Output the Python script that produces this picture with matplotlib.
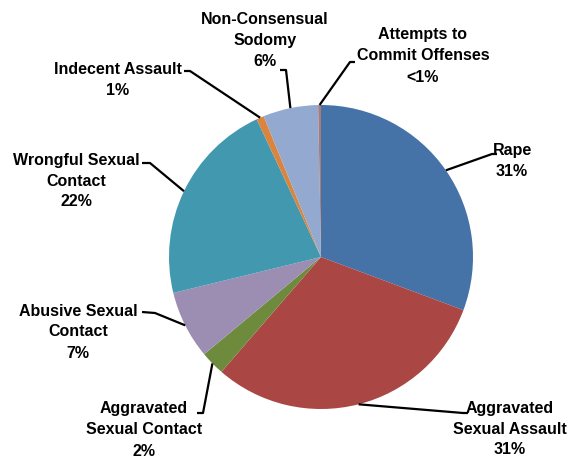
import numpy as np
import matplotlib
matplotlib.use("Agg")
import matplotlib.pyplot as plt

# offense categories, clockwise from 12 o'clock
categories = ["Rape", "Aggravated\nSexual Assault", "Aggravated\nSexual Contact",
              "Abusive Sexual\nContact", "Wrongful Sexual\nContact",
              "Indecent Assault", "Non-Consensual\nSodomy",
              "Attempts to\nCommit Offenses"]
shares = [30.9, 30.9, 2.6, 7.3, 22.0, 0.8, 5.9, 0.3]
pct_labels = ["31%", "31%", "2%", "7%", "22%", "1%", "6%", "<1%"]
colors = ["#4572A7", "#AA4643", "#6E8B3D", "#9C8DB2",
          "#4198AF", "#DB843D", "#93A9CF", "#A47D7C"]

W, H = 571, 468
# layout in pixel coords (y from top): text centre, elbow, line end
text_pos = [(512, 161), (510, 429), (144, 430), (78, 332),
            (76, 181), (118, 80), (265, 41), (423, 56)]
elbows = [((492, 154), (497, 154)), ((463, 413), (468, 413)),
          ((203, 413), (197, 413)), ((155, 313), (142, 312)),
          ((150, 163), (142, 163)), ((190, 71), (184, 71)),
          ((286, 70), (280, 70)), ((350, 62), (355, 62))]

cx, cy, r = 321, 257, 152

fig = plt.figure(figsize=(W / 100, H / 100), dpi=100)
ax = fig.add_axes([0, 0, 1, 1])

wedges, _ = ax.pie(shares, colors=colors, startangle=90, counterclock=False,
                   center=(cx, H - cy), radius=r, frame=True,
                   wedgeprops=dict(linewidth=0))
ax.set_xlim(0, W)
ax.set_ylim(0, H)
ax.set_aspect("equal")
ax.axis("off")

for w, cat, pct, tp, (el, end) in zip(wedges, categories, pct_labels,
                                       text_pos, elbows):
    ang = np.deg2rad((w.theta1 + w.theta2) / 2)
    x0 = cx + r * np.cos(ang)
    y0 = (H - cy) + r * np.sin(ang)
    ax.plot([x0, el[0], end[0]], [y0, H - el[1], H - end[1]],
            color="black", lw=1.6, solid_capstyle="butt")
    ax.text(tp[0], H - tp[1], f"{cat}\n{pct}", ha="center", va="center",
            fontsize=11.5, fontweight="bold", family="Liberation Sans",
            linespacing=1.5)

fig.savefig("out.png", dpi=100)
